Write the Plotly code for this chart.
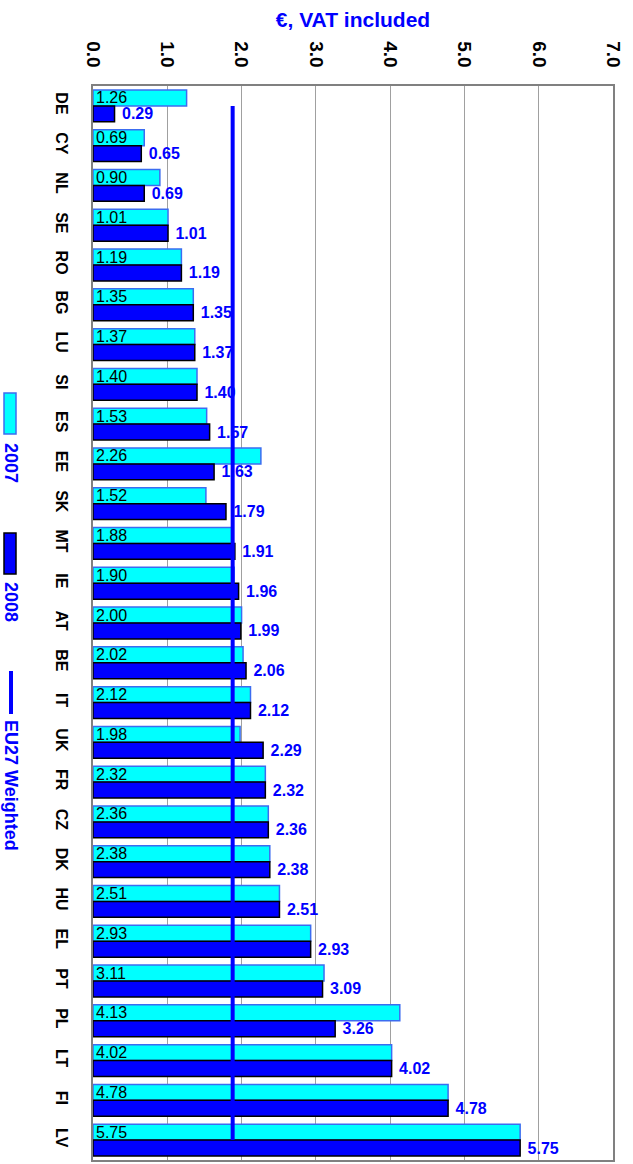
import plotly.graph_objects as go

countries = ["DE", "CY", "NL", "SE", "RO", "BG", "LU", "SI", "ES", "EE", "SK", "MT", "IE", "AT",
             "BE", "IT", "UK", "FR", "CZ", "DK", "HU", "EL", "PT", "PL", "LT", "FI", "LV"]
values_2007 = [1.26, 0.69, 0.90, 1.01, 1.19, 1.35, 1.37, 1.40, 1.53, 2.26, 1.52, 1.88, 1.90, 2.00,
               2.02, 2.12, 1.98, 2.32, 2.36, 2.38, 2.51, 2.93, 3.11, 4.13, 4.02, 4.78, 5.75]
values_2008 = [0.29, 0.65, 0.69, 1.01, 1.19, 1.35, 1.37, 1.40, 1.57, 1.63, 1.79, 1.91, 1.96, 1.99,
               2.06, 2.12, 2.29, 2.32, 2.36, 2.38, 2.51, 2.93, 3.09, 3.26, 4.02, 4.78, 5.75]
eu27_weighted = 1.88
x_ticks = [0, 1, 2, 3, 4, 5, 6, 7]

W, H = 633, 1164
L, R, T, B = 93, 20, 86, 4
PW, PH = W - L - R, H - T - B


def px(x):
    """page x pixel -> paper coordinate"""
    return (x - L) / PW


def py(y):
    """page y pixel -> paper coordinate"""
    return 1 - (y - T) / PH


FONT = "Liberation Sans, Arial, sans-serif"
BLUE = "#0000FF"
CYAN = "#00FFFF"

fig = go.Figure()
fig.add_trace(go.Bar(
    y=countries, x=values_2007, orientation="h", name="2007",
    marker=dict(color=CYAN, line=dict(color="#3C6CF0", width=1.5)),
    text=[f"{v:.2f}" for v in values_2007], textposition="inside",
    insidetextanchor="start", constraintext="none",
    textfont=dict(family=FONT, size=16, color="black"),
))
fig.add_trace(go.Bar(
    y=countries, x=values_2008, orientation="h", name="2008",
    marker=dict(color=BLUE, line=dict(color="black", width=1.5)),
    text=[f" {v:.2f}" for v in values_2008], textposition="outside",
    constraintext="none", cliponaxis=False,
    textfont=dict(family=FONT, size=16, color=BLUE, weight="bold"),
))
fig.add_trace(go.Scatter(
    y=[countries[0], countries[-1]], x=[eu27_weighted, eu27_weighted],
    mode="lines", name="EU27 Weighted", line=dict(color=BLUE, width=4),
))

fig.update_layout(
    width=W, height=H, margin=dict(l=L, r=R, t=T, b=B, autoexpand=False),
    paper_bgcolor="white", plot_bgcolor="white",
    barmode="group", bargap=0.2, bargroupgap=0,
    showlegend=False,
    font=dict(family=FONT),
    title=dict(text="€, VAT included", x=0.5, xref="paper", xanchor="center",
               y=1 - 20 / H, yref="container", yanchor="middle",
               font=dict(family=FONT, size=21, color=BLUE, weight="bold")),
    xaxis=dict(side="top", range=[0, 7], tickvals=x_ticks, tickformat=".1f",
               tickangle=90, showgrid=True, gridcolor="#A0A0A0", gridwidth=1,
               zeroline=False, showline=True, linecolor="#808080", linewidth=1.5,
               mirror=True, ticks="", ticklen=0, automargin=False,
               ticklabelstandoff=10,
               tickfont=dict(family=FONT, size=19, color="black", weight="bold")),
    yaxis=dict(range=[len(countries) - 0.5, -0.5], tickangle=90, showgrid=False,
               showline=True, linecolor="#808080", linewidth=1.5, mirror=True,
               ticks="", automargin=False, ticklabelstandoff=16,
               tickfont=dict(family=FONT, size=16, color="black", weight="bold")),
)

# Rotated legend drawn at the left edge
legend_shapes = [
    dict(type="rect", xref="paper", yref="paper", x0=px(4), x1=px(16), y0=py(434), y1=py(393),
         fillcolor=CYAN, line=dict(color="#3C6CF0", width=1.5)),
    dict(type="rect", xref="paper", yref="paper", x0=px(4), x1=px(16), y0=py(574), y1=py(533),
         fillcolor=BLUE, line=dict(color="black", width=1.5)),
    dict(type="line", xref="paper", yref="paper", x0=px(11), x1=px(11), y0=py(714), y1=py(671),
         line=dict(color=BLUE, width=4)),
]
for s in legend_shapes:
    fig.add_shape(**s)

legend_labels = [("2007", 463), ("2008", 602), ("EU27 Weighted", 785)]
for txt, yc in legend_labels:
    fig.add_annotation(text=txt, xref="paper", yref="paper", x=px(11), y=py(yc),
                       xanchor="center", yanchor="middle", textangle=90, showarrow=False,
                       font=dict(family=FONT, size=18, color=BLUE, weight="bold"))

fig.write_html("out.html", config={"displayModeBar": False},
               post_script="document.body.style.margin='0';document.body.style.padding='0';")
